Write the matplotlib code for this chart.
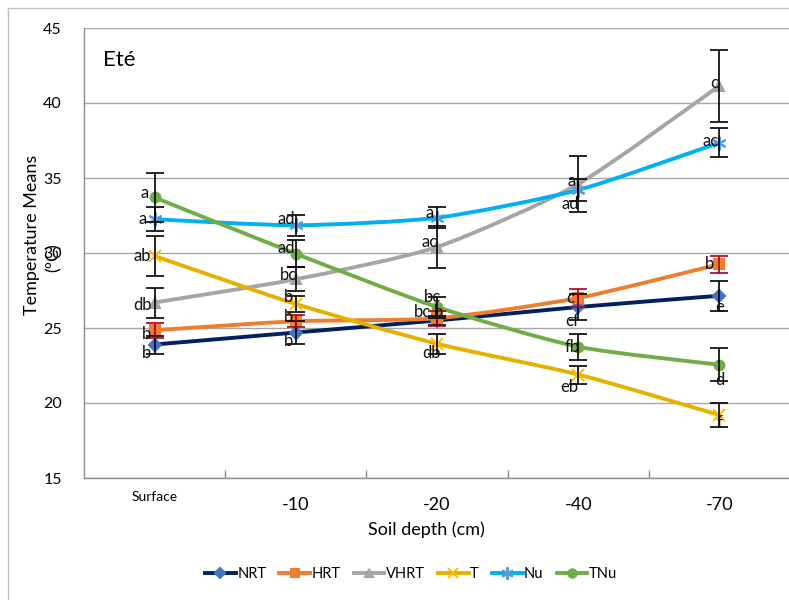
import numpy as np
import matplotlib
matplotlib.use("Agg")
import matplotlib.pyplot as plt
from matplotlib.path import Path
from matplotlib.patches import PathPatch
from matplotlib.lines import Line2D

plt.rcParams['font.family'] = ['Lato', 'DejaVu Sans']

# data
depths = ["Surface", "-10", "-20", "-40", "-70"]
series = ["NRT", "HRT", "VHRT", "T", "Nu", "TNu"]

nrt = [23.9, 24.7, 25.5, 26.4, 27.15]
hrt = [24.85, 25.45, 25.65, 27.0, 29.25]
vhrt = [26.7, 28.25, 30.4, 34.6, 41.15]
t = [29.8, 26.6, 23.95, 21.9, 19.2]
nu = [32.25, 31.85, 32.35, 34.2, 37.35]
tnu = [33.7, 29.95, 26.4, 23.75, 22.55]

nrt_err = [0.6, 0.75, 0.3, 0.85, 1.0]
hrt_err = [0.5, 0.4, 0.5, 0.6, 0.55]
vhrt_err = [1.0, 0.8, 1.4, 1.85, 2.4]
t_err = [1.35, 0.55, 0.65, 0.6, 0.8]
nu_err = [0.8, 0.7, 0.7, 0.7, 0.95]
tnu_err = [1.6, 0.9, 0.7, 0.85, 1.1]

nrt_lab = ["b", "b", "", "cf", "e"]
hrt_lab = ["b", "b", "bc,b", "c", "b"]
vhrt_lab = ["db", "bc", "ac", "a", "c"]
t_lab = ["ab", "b", "db", "eb", "f"]
nu_lab = ["a", "ad", "a", "ad", "ac"]
tnu_lab = ["a", "ad", "bc", "fb", "d"]

# label offsets in pixels (right edge of text relative to the marker)
lab_off = {
    "NRT": [(-3, -9), (-3, -9), (0, 0), (1, -14), (5, -11)],
    "HRT": [(-3, -4), (-3, 4), (7, 7), (-4, 0), (-5, 0)],
    "VHRT": [(-3, -3), (1, 4), (1, 5), (-2, 3), (-1, 3)],
    "T": [(-4, 0), (-3, 7), (4, -9), (0, -12), (3, -8)],
    "Nu": [(-8, 0), (-1, 6), (-3, 5), (1, -14), (-1, 2)],
    "TNu": [(-6, 4), (-1, 6), (4, 10), (2, 0), (5, -15)],
}

styles = {
    "NRT": dict(color="#002060", mfc="#4472C4", mec="#4472C4", marker="D", ms=6, ecolor="black"),
    "HRT": dict(color="#ED7D31", mfc="#ED7D31", mec="#ED7D31", marker="s", ms=7, ecolor="#A50021"),
    "VHRT": dict(color="#A5A5A5", mfc="#A5A5A5", mec="#A5A5A5", marker="^", ms=7, ecolor="black"),
    "T": dict(color="#E6B000", mfc="#FFC000", mec="#FFC000", marker="x", ms=8, ecolor="black"),
    "Nu": dict(color="#00B0F0", mfc="#5B9BD5", mec="#5B9BD5", marker=(6, 2, 0), ms=10, ecolor="black"),
    "TNu": dict(color="#70AD47", mfc="#70AD47", mec="#70AD47", marker="o", ms=7, ecolor="black"),
}

values = {"NRT": nrt, "HRT": hrt, "VHRT": vhrt, "T": t, "Nu": nu, "TNu": tnu}
errors = {"NRT": nrt_err, "HRT": hrt_err, "VHRT": vhrt_err, "T": t_err, "Nu": nu_err, "TNu": tnu_err}
labels = {"NRT": nrt_lab, "HRT": hrt_lab, "VHRT": vhrt_lab, "T": t_lab, "Nu": nu_lab, "TNu": tnu_lab}


def smooth_path(xs, ys, k=9.0):
    # excel-like smoothed line: bezier segments through the points
    pts = np.column_stack([xs, ys])
    n = len(pts)
    verts = [pts[0]]
    codes = [Path.MOVETO]
    for i in range(n - 1):
        p0 = pts[i - 1] if i > 0 else pts[i]
        p1 = pts[i]
        p2 = pts[i + 1]
        p3 = pts[i + 2] if i + 2 < n else pts[i + 1]
        c1 = p1 + (p2 - p0) / k
        c2 = p2 - (p3 - p1) / k
        verts += [c1, c2, p2]
        codes += [Path.CURVE4] * 3
    return Path(verts, codes)


fig = plt.figure(figsize=(7.89, 6.0), dpi=100)
ax = fig.add_axes([84 / 789, 1 - 478 / 600, 706 / 789, 450 / 600])

x = np.arange(len(depths))

for name in series:
    st = styles[name]
    y = values[name]
    ax.add_patch(PathPatch(smooth_path(x, y), fill=False, edgecolor=st["color"],
                           lw=2.8, zorder=3, capstyle="round"))
    ax.plot(x, y, linestyle="none", marker=st["marker"], ms=st["ms"],
            mfc=st["mfc"], mec=st["mec"], mew=1.5, zorder=4)
    ax.errorbar(x, y, yerr=errors[name], fmt="none", ecolor=st["ecolor"],
                elinewidth=1.2, capsize=6.5, capthick=1.2, zorder=5)
    for i, lab in enumerate(labels[name]):
        if not lab:
            continue
        dx, dy = lab_off[name][i]
        ax.annotate(lab, (x[i], y[i]), xytext=(dx, dy), textcoords="offset pixels",
                    ha="right", va="center", fontsize=12, color="#111111", zorder=6)

ax.set_xlim(-0.5, 4.5)
ax.set_ylim(15, 45)
ax.set_yticks(np.arange(15, 46, 5))
ax.set_xticks(np.arange(0.5, 4.5, 1))
ax.set_xticklabels([])
ax.tick_params(axis="x", direction="in", length=6, color="#8C8C8C", width=1)
ax.tick_params(axis="y", length=0, pad=16, labelsize=11.5)
ax.grid(axis="y", color="#A6A6A6", lw=1)
ax.set_axisbelow(True)
for s in ["top", "right"]:
    ax.spines[s].set_visible(False)
for s in ["left", "bottom"]:
    ax.spines[s].set_color("#8C8C8C")
    ax.spines[s].set_linewidth(1)

# category labels under the axis
for i, d in enumerate(depths):
    if d == "Surface":
        ax.text(i, -0.043, d, transform=ax.get_xaxis_transform(), ha="center",
                va="center", fontsize=10)
    else:
        ax.text(i, -0.06, d, transform=ax.get_xaxis_transform(), ha="center",
                va="center", fontsize=13)

ax.text(0.027, 0.93, "Eté", transform=ax.transAxes, fontsize=16, va="center", ha="left")

fig.text(426 / 789, 1 - 530 / 600, "Soil depth (cm)", ha="center", va="center", fontsize=13)
fig.text(32 / 789, 1 - 235 / 600, "Temperature Means", rotation=90, ha="center",
         va="center", fontsize=13)
fig.text(54 / 789, 1 - 258 / 600, "(ºC)", rotation=90, ha="center", va="center", fontsize=13)

# outer chart border
fig.add_artist(Line2D([8 / 789, 8 / 789], [0, 1 - 8 / 600], transform=fig.transFigure,
                      color="#BFBFBF", lw=1))
fig.add_artist(Line2D([8 / 789, 1], [1 - 8 / 600, 1 - 8 / 600], transform=fig.transFigure,
                      color="#BFBFBF", lw=1))

handles = []
for name in series:
    st = styles[name]
    handles.append(Line2D([], [], color=st["color"], lw=2.8, marker=st["marker"],
                          ms=st["ms"] - 1, mfc=st["mfc"], mec=st["mec"], mew=1.5))
fig.legend(handles, series, loc="center", bbox_to_anchor=(411 / 789, 1 - 574 / 600),
           ncol=6, frameon=False, fontsize=10.5, handlelength=2.1, columnspacing=0.9,
           handletextpad=0.1)

fig.savefig("out.png", dpi=100)
